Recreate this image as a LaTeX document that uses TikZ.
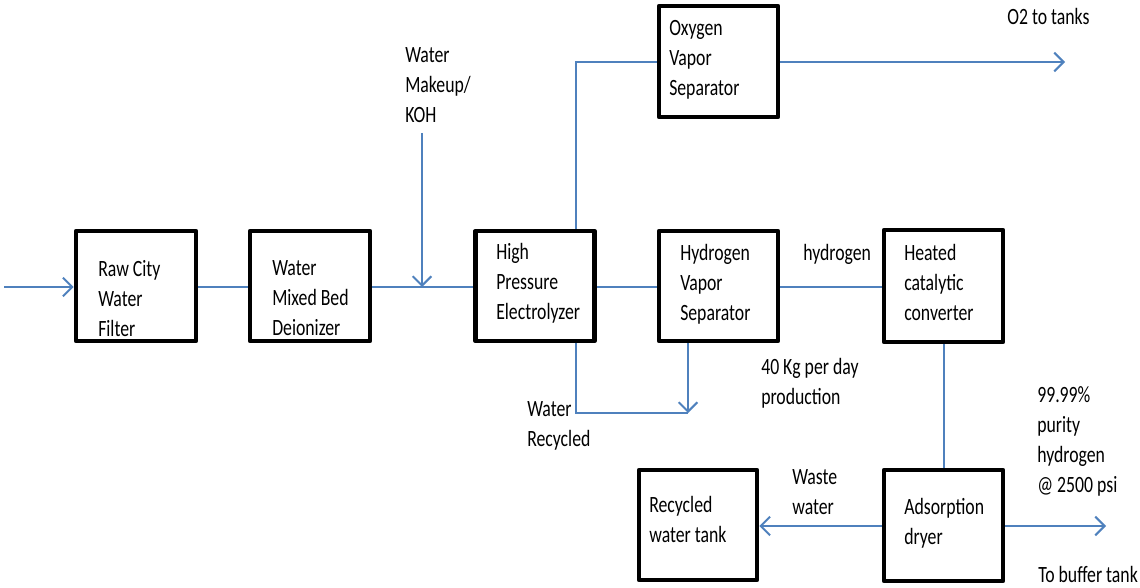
\documentclass[tikz,border=0pt]{standalone}
\usepackage{fontspec}
\setmainfont{Carlito}[FakeStretch=0.76]
\usetikzlibrary{arrows.meta}
\definecolor{flowblue}{RGB}{79,129,189}
\tikzset{
  unitbox/.style={draw=black, line width=3.6pt, rectangle, inner sep=0pt, line join=round},
  flow/.style={draw=flowblue, line width=1.5pt},
  flowarrow/.style={flow, -{Straight Barb[length=7pt,width=14pt]}},
  txt/.style={anchor=north west, inner sep=0pt, align=left, font=\fontsize{17.5}{22.5}\selectfont, text=black}
}
\newcommand{\boxat}[5]{\node[unitbox, minimum width=#4*0.75pt, minimum height=#5*0.75pt] (#1) at (#2,#3) {};}
\begin{document}
\begin{tikzpicture}[x=0.75pt,y=-0.75pt]
\useasboundingbox (0,0) rectangle (1140,588);
% boxes (centre x, centre y, width, height in px)
\boxat{filt}{136}{286}{120}{110}
\boxat{deion}{310}{286}{120}{110}
\boxat{elec}{535}{286}{119}{110}
\boxat{hsep}{718.5}{286}{119}{110}
\boxat{osep}{718.5}{61.5}{119}{111}
\boxat{heat}{943.5}{286}{119}{112}
\boxat{ads}{943.5}{525.5}{119}{111}
\boxat{tank}{698}{525}{118}{110}
% box texts
\node[txt] (tfilt) at (98,260) {Raw City\\Water\\Filter};
\node[txt] (tdeion) at (272,260) {Water\\Mixed Bed\\Deionizer};
\node[txt] (telec) at (496,243) {High\\Pressure\\Electrolyzer};
\node[txt] (tosep) at (669,20) {Oxygen\\Vapor\\Separator};
\node[txt] (thsep) at (680,244) {Hydrogen\\Vapor\\Separator};
\node[txt] (theat) at (904,244) {Heated\\catalytic\\converter};
\node[txt] (tads) at (904,498) {Adsorption\\dryer};
\node[txt] (ttank) at (649,496) {Recycled\\water tank};
% free labels
\node[txt] (lmake) at (405,47) {Water\\Makeup/\\KOH};
\node[txt] (lo2) at (1007,8) {O2 to tanks};
\node[txt] (lh2) at (803,244) {hydrogen};
\node[txt] (lkg) at (761,358) {40\,Kg per day\\production};
\node[txt] (lpur) at (1037,386) {99.99\%\\purity\\hydrogen\\@ 2500 psi};
\node[txt] (lwaste) at (792,469) {Waste\\water};
\node[txt] (lbuf) at (1038,566) {To buffer tank};
\node[txt] (lrec) at (527,401) {Water\\Recycled};
% coordinates for free ends
\coordinate (inS) at (4,287);
\coordinate (mkS) at (422,133);
\coordinate (mkE) at (422,287);
\coordinate (oTop) at (576,62);
\coordinate (o2E) at (1065,62);
\coordinate (recL) at (576,413);
\coordinate (recR) at (688,413);
\coordinate (bufE) at (1106,526);
% connectors
\draw[flowarrow] (inS) -- (filt.west |- inS);
\draw[flow] (filt.east |- inS) -- (deion.west |- inS);
\draw[flow] (deion.east |- inS) -- (elec.west |- inS);
\draw[flowarrow] (mkS) -- (mkE);
\draw[flow] (elec.north -| oTop) -- (oTop) -- (osep.west |- oTop);
\draw[flowarrow] (osep.east |- oTop) -- (o2E);
\draw[flow] (elec.east |- inS) -- (hsep.west |- inS);
\draw[flow] (hsep.east |- inS) -- (heat.west |- inS);
\draw[flow] (elec.south -| recL) -- (recL) -- (recR);
\draw[flowarrow] (hsep.south -| recR) -- (recR);
\draw[flow] (heat.south) -- (ads.north);
\draw[flowarrow] (ads.west |- bufE) -- (tank.east |- bufE);
\draw[flowarrow] (ads.east |- bufE) -- (bufE);
\end{tikzpicture}
\end{document}
